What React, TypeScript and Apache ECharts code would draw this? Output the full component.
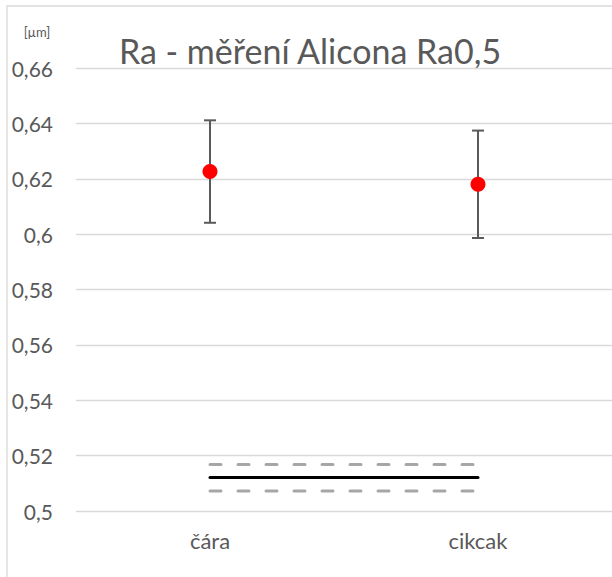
import React, { useEffect, useRef } from "react";
import * as echarts from "echarts";

// Measured roughness per stroke pattern
const categories = ["čára", "cikcak"];
const meanValues = [0.6226, 0.618];
const errorValues = [0.0185, 0.0194];

// Reference roughness standard Ra0,5: nominal value and its tolerance band
const nominalLine = [0.5121, 0.5121];
const upperLine = [0.5168, 0.5168];
const lowerLine = [0.5072, 0.5072];

const yMin = 0.5;
const yMax = 0.66;
const yStep = 0.02;

const FONT = "Lato";
const TEXT = "#595959";

export default function App() {
  const ref = useRef<HTMLDivElement>(null);

  useEffect(() => {
    if (!ref.current) return;
    const chart = echarts.init(ref.current, undefined, { renderer: "svg" });

    const errorData = meanValues.map((m, i) => [i, m - errorValues[i], m + errorValues[i]]);

    chart.setOption({
      animation: false,
      backgroundColor: "#ffffff",
      grid: { left: 76, top: 68, width: 540, height: 443, containLabel: false },
      xAxis: {
        type: "category",
        data: categories,
        boundaryGap: true,
        axisLine: { show: false },
        axisTick: { show: false },
        axisLabel: { color: TEXT, fontFamily: FONT, fontSize: 22, margin: 18 },
        splitLine: { show: false },
      },
      yAxis: {
        type: "value",
        min: yMin,
        max: yMax,
        interval: yStep,
        axisLine: { show: false },
        axisTick: { show: false },
        axisLabel: {
          color: TEXT,
          fontFamily: FONT,
          fontSize: 21,
          margin: 23,
          formatter: (v: number) => Number(v.toFixed(2)).toString().replace(".", ","),
        },
        splitLine: { lineStyle: { color: "#d9d9d9", width: 1.3 } },
      },
      graphic: [
        {
          type: "rect",
          shape: { x: 7, y: 6, width: 800, height: 800 },
          style: { fill: "none", stroke: "#d9d9d9", lineWidth: 1.3 },
          silent: true,
        },
        {
          type: "text",
          x: 310,
          y: 50,
          style: {
            text: "Ra - měření Alicona Ra0,5",
            fill: TEXT,
            font: `34px ${FONT}`,
            align: "center",
            verticalAlign: "middle",
          },
        },
        {
          type: "text",
          x: 37,
          y: 32,
          style: {
            text: "[µm]",
            fill: TEXT,
            font: `13px ${FONT}`,
            align: "center",
            verticalAlign: "middle",
          },
        },
      ],
      series: [
        {
          type: "line",
          data: upperLine,
          symbol: "none",
          lineStyle: { color: "#a6a6a6", width: 3, type: [11, 17], cap: "round" },
          z: 2,
        },
        {
          type: "line",
          data: lowerLine,
          symbol: "none",
          lineStyle: { color: "#a6a6a6", width: 3, type: [11, 17], cap: "round" },
          z: 2,
        },
        {
          type: "line",
          data: nominalLine,
          symbol: "none",
          lineStyle: { color: "#000000", width: 3, cap: "round" },
          z: 3,
        },
        {
          type: "custom",
          data: errorData,
          z: 4,
          renderItem: (params: any, api: any) => {
            const x = api.value(0);
            const lo = api.coord([x, api.value(1)]);
            const hi = api.coord([x, api.value(2)]);
            const half = 6;
            const style = { stroke: "#5a5a5a", lineWidth: 2 };
            return {
              type: "group",
              children: [
                { type: "line", shape: { x1: hi[0], y1: hi[1], x2: lo[0], y2: lo[1] }, style },
                { type: "line", shape: { x1: hi[0] - half, y1: hi[1], x2: hi[0] + half, y2: hi[1] }, style },
                { type: "line", shape: { x1: lo[0] - half, y1: lo[1], x2: lo[0] + half, y2: lo[1] }, style },
              ],
            };
          },
        },
        {
          type: "scatter",
          data: meanValues,
          symbol: "circle",
          symbolSize: 15,
          itemStyle: { color: "#ff0000", opacity: 1 },
          z: 5,
        },
      ],
    });

    return () => chart.dispose();
  }, []);

  return (
    <div
      ref={ref}
      style={{ position: "absolute", left: 0, top: 0, width: 612, height: 577 }}
    />
  );
}
